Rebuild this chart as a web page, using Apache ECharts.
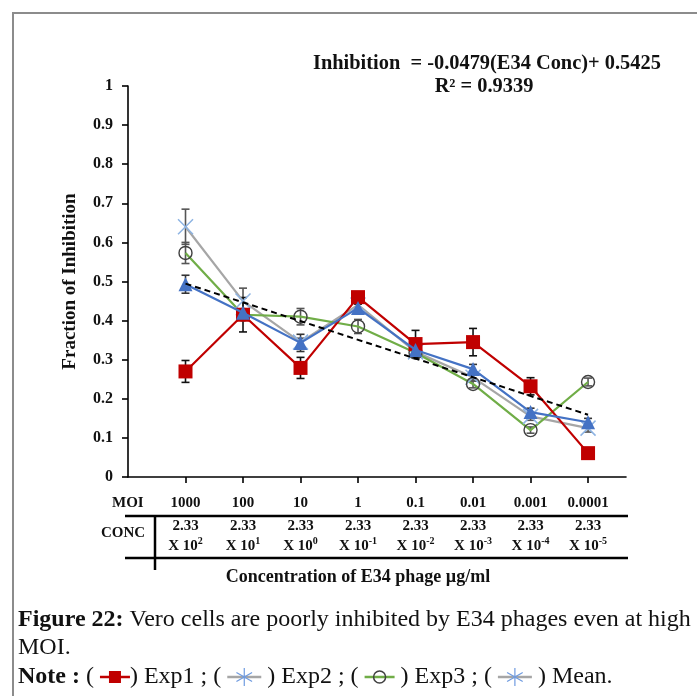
<!DOCTYPE html>
<html>
<head>
<meta charset="utf-8">
<script src="https://cdn.jsdelivr.net/npm/echarts@6/dist/echarts.min.js"></script>
<style>
  html, body { margin: 0; padding: 0; background: #fff; }
  #chart { width: 697px; height: 696px; }
</style>
</head>
<body>
<div id="chart"></div>
<script>
// Category positions along the x axis and their table labels
const xPos = [1, 2, 3, 4, 5, 6, 7, 8];
const moiLabels = ['1000', '100', '10', '1', '0.1', '0.01', '0.001', '0.0001'];
const concBase = '2.33';
const concPowers = ['2', '1', '0', '-1', '-2', '-3', '-4', '-5'];

// Fraction of inhibition per experiment, with error bar half-widths
const exp1 = [0.270, 0.415, 0.279, 0.460, 0.340, 0.345, 0.232, 0.061];
const exp1Err = [0.028, 0.044, 0.027, 0.008, 0.035, 0.035, 0.022, 0.004];
const exp2 = [0.640, 0.450, 0.345, 0.440, 0.320, 0.255, 0.155, 0.125];
const exp2Err = [0.045, 0.033, 0.010, 0.010, 0.010, 0.010, 0.010, 0.010];
const exp3 = [0.573, 0.415, 0.410, 0.385, 0.318, 0.238, 0.120, 0.243];
const exp3Err = [0.027, 0.010, 0.021, 0.018, 0.010, 0.010, 0.008, 0.010];
const meanVals = [0.493, 0.420, 0.343, 0.432, 0.325, 0.276, 0.166, 0.140];
const meanErr = [0.023, 0.010, 0.022, 0.010, 0.010, 0.012, 0.010, 0.010];

// Linear trend of the mean: Inhibition = slope * x + intercept
const trendSlope = -0.0479;
const trendIntercept = 0.5425;
const trendR2 = '0.9339';

const SERIF = '"Liberation Serif", "Times New Roman", serif';
const chart = echarts.init(document.getElementById('chart'), null, { renderer: 'canvas' });

function pairs(vals) { return xPos.map((x, i) => [x, vals[i]]); }

function errorSeries(vals, errs, color) {
  return {
    type: 'custom',
    silent: true,
    z: 3,
    encode: { x: 0, y: [1, 2] },
    data: xPos.map((x, i) => [x, vals[i] - errs[i], vals[i] + errs[i]]),
    renderItem(params, api) {
      const lo = api.coord([api.value(0), api.value(1)]);
      const hi = api.coord([api.value(0), api.value(2)]);
      const w = 4;
      const style = { stroke: color, lineWidth: 1.6, fill: null };
      return {
        type: 'group',
        children: [
          { type: 'line', shape: { x1: lo[0], y1: lo[1], x2: hi[0], y2: hi[1] }, style },
          { type: 'line', shape: { x1: lo[0] - w, y1: lo[1], x2: lo[0] + w, y2: lo[1] }, style },
          { type: 'line', shape: { x1: hi[0] - w, y1: hi[1], x2: hi[0] + w, y2: hi[1] }, style }
        ]
      };
    }
  };
}

const crossPath = 'path://M0,0L10,10M10,0L0,10';
const trendData = [xPos[0], xPos[xPos.length - 1]].map(x => [x, trendIntercept + trendSlope * x]);

const labelFont = { fontFamily: SERIF, fontWeight: 'bold', color: '#111' };

// Legend glyphs in the note line
function legendIcon(x, y, kind, width) {
  const items = [];
  if (kind === 'square') {
    items.push({ type: 'line', shape: { x1: x, y1: y, x2: x + width, y2: y }, style: { stroke: '#C00000', lineWidth: 2.5 } });
    items.push({ type: 'rect', shape: { x: x + width / 2 - 6, y: y - 6, width: 12, height: 12 }, style: { fill: '#C00000' } });
  } else if (kind === 'star') {
    items.push({ type: 'line', shape: { x1: x, y1: y, x2: x + width, y2: y }, style: { stroke: '#A6A6A6', lineWidth: 2.5 } });
    const cx = x + width / 2, r = 9;
    [[0, -r, 0, r], [-r * 0.87, -r * 0.5, r * 0.87, r * 0.5], [-r * 0.87, r * 0.5, r * 0.87, -r * 0.5]].forEach(s => {
      items.push({ type: 'line', shape: { x1: cx + s[0], y1: y + s[1], x2: cx + s[2], y2: y + s[3] }, style: { stroke: '#6F9BE0', lineWidth: 1.2 } });
    });
  } else {
    items.push({ type: 'line', shape: { x1: x, y1: y, x2: x + width, y2: y }, style: { stroke: '#70AD47', lineWidth: 2.5 } });
    items.push({ type: 'circle', shape: { cx: x + width / 2, cy: y, r: 6 }, style: { fill: 'none', stroke: '#404040', lineWidth: 1.5 } });
  }
  return items;
}

function txt(x, y, text, font, opts) {
  return {
    type: 'text', x, y,
    style: Object.assign({ text, fill: '#111', font, textAlign: 'left', textVerticalAlign: 'middle' }, opts || {})
  };
}

const capSize = 24;
const capFont = capSize + 'px ' + SERIF;
const capBold = 'bold ' + capSize + 'px ' + SERIF;
const noteY = 677;

// Lay out the note line piece by piece, measuring text widths
const measureCtx = document.createElement('canvas').getContext('2d');
function textWidth(t, font) { measureCtx.font = font; return measureCtx.measureText(t).width; }
const notePieces = [
  { t: 'Note :', font: capBold }, { t: ' ( ', font: capFont }, { icon: 'square', w: 30 },
  { t: ') Exp1 ; ( ', font: capFont }, { icon: 'star', w: 34 },
  { t: ' ) Exp2 ; ( ', font: capFont }, { icon: 'circle', w: 30 },
  { t: ' ) Exp3 ; ( ', font: capFont }, { icon: 'star', w: 34 },
  { t: ' ) Mean.', font: capFont }
];
const noteGraphics = [];
let cursor = 18;
notePieces.forEach(p => {
  if (p.icon) {
    legendIcon(cursor, noteY, p.icon, p.w).forEach(g => noteGraphics.push(g));
    cursor += p.w;
  } else {
    noteGraphics.push(txt(cursor, noteY, p.t, p.font));
    cursor += textWidth(p.t, p.font);
  }
});

const graphics = [
  { type: 'rect', shape: { x: 13, y: 13, width: 720, height: 720 }, style: { fill: 'none', stroke: '#8C8C8C', lineWidth: 2 }, z: 0 },
  txt(313, 64, 'Inhibition  = -0.0479(E34 Conc)+ 0.5425', 'bold 20.4px ' + SERIF),
  txt(484, 87, 'R\u00b2 = ' + trendR2, 'bold 20.4px ' + SERIF, { textAlign: 'center' }),
  txt(112, 503, 'MOI', 'bold 15px ' + SERIF),
  txt(101, 533, 'CONC', 'bold 15px ' + SERIF),
  { type: 'line', shape: { x1: 125, y1: 516, x2: 628, y2: 516 }, style: { stroke: '#000', lineWidth: 2.5 } },
  { type: 'line', shape: { x1: 125, y1: 558, x2: 628, y2: 558 }, style: { stroke: '#000', lineWidth: 2.5 } },
  { type: 'line', shape: { x1: 155, y1: 516, x2: 155, y2: 570 }, style: { stroke: '#000', lineWidth: 2.5 } },
  txt(358, 577, 'Concentration of E34 phage \u00b5g/ml', 'bold 18px ' + SERIF, { textAlign: 'center' }),
  txt(18, 620, '', capFont, {
    text: '{b|Figure 22:} Vero cells are poorly inhibited by E34 phages even at high',
    rich: { b: { font: capBold, fill: '#111' } }
  }),
  txt(18, 648, 'MOI.', capFont)
].concat(noteGraphics);

chart.setOption({
  animation: false,
  backgroundColor: '#fff',
  grid: { left: 128, right: 71, top: 86, bottom: 219, containLabel: false },
  xAxis: {
    type: 'value', min: 0, max: 8.66,
    splitLine: { show: false },
    axisLine: { lineStyle: { color: '#000', width: 1.6 } },
    axisTick: { show: true, customValues: xPos, length: 6, lineStyle: { color: '#000', width: 1.6 } },
    axisLabel: {
      customValues: xPos,
      margin: 13,
      formatter: v => {
        const i = xPos.indexOf(v);
        return '{m|' + moiLabels[i] + '}\n{c|' + concBase + '}\n{c|X 10}{s|' + concPowers[i] + '}';
      },
      rich: {
        m: Object.assign({ fontSize: 15, lineHeight: 26 }, labelFont),
        c: Object.assign({ fontSize: 15, lineHeight: 20 }, labelFont),
        s: Object.assign({ fontSize: 10, lineHeight: 12, verticalAlign: 'top' }, labelFont)
      }
    }
  },
  yAxis: {
    type: 'value', min: 0, max: 1, interval: 0.1,
    splitLine: { show: false },
    axisLine: { show: true, lineStyle: { color: '#000', width: 1.6 } },
    axisTick: { show: true, length: 6, lineStyle: { color: '#000', width: 1.6 } },
    axisLabel: { margin: 15, fontSize: 16, fontFamily: SERIF, fontWeight: 'bold', color: '#111' },
    name: 'Fraction of Inhibition',
    nameLocation: 'middle',
    nameGap: 48,
    nameTextStyle: { fontSize: 19, fontFamily: SERIF, fontWeight: 'bold', color: '#111' }
  },
  series: [
    errorSeries(exp2, exp2Err, '#555'),
    errorSeries(exp3, exp3Err, '#555'),
    errorSeries(exp1, exp1Err, '#111'),
    errorSeries(meanVals, meanErr, '#333'),
    {
      name: 'Exp2', type: 'line', data: pairs(exp2), z: 4,
      lineStyle: { color: '#A6A6A6', width: 2.2 },
      symbol: crossPath, symbolSize: 15,
      itemStyle: { color: '#8EB4E3', borderColor: '#8EB4E3', borderWidth: 1.5 }
    },
    {
      name: 'Exp3', type: 'line', data: pairs(exp3), z: 4,
      lineStyle: { color: '#70AD47', width: 2.2 },
      symbol: 'circle', symbolSize: 13,
      itemStyle: { color: 'rgba(255,255,255,0)', borderColor: '#404040', borderWidth: 1.4 }
    },
    {
      name: 'Exp1', type: 'line', data: pairs(exp1), z: 5,
      lineStyle: { color: '#C00000', width: 2.2 },
      symbol: 'rect', symbolSize: 14,
      itemStyle: { color: '#C00000' }
    },
    {
      name: 'Mean', type: 'line', data: pairs(meanVals), z: 6,
      lineStyle: { color: '#4472C4', width: 2.2 },
      symbol: 'triangle', symbolSize: 14,
      itemStyle: { color: '#4472C4' }
    },
    {
      name: 'Trend', type: 'line', data: trendData, z: 7,
      lineStyle: { color: '#000', width: 2, type: [6, 4] },
      symbol: 'none'
    }
  ],
  graphic: { elements: graphics }
});
</script>
</body>
</html>
